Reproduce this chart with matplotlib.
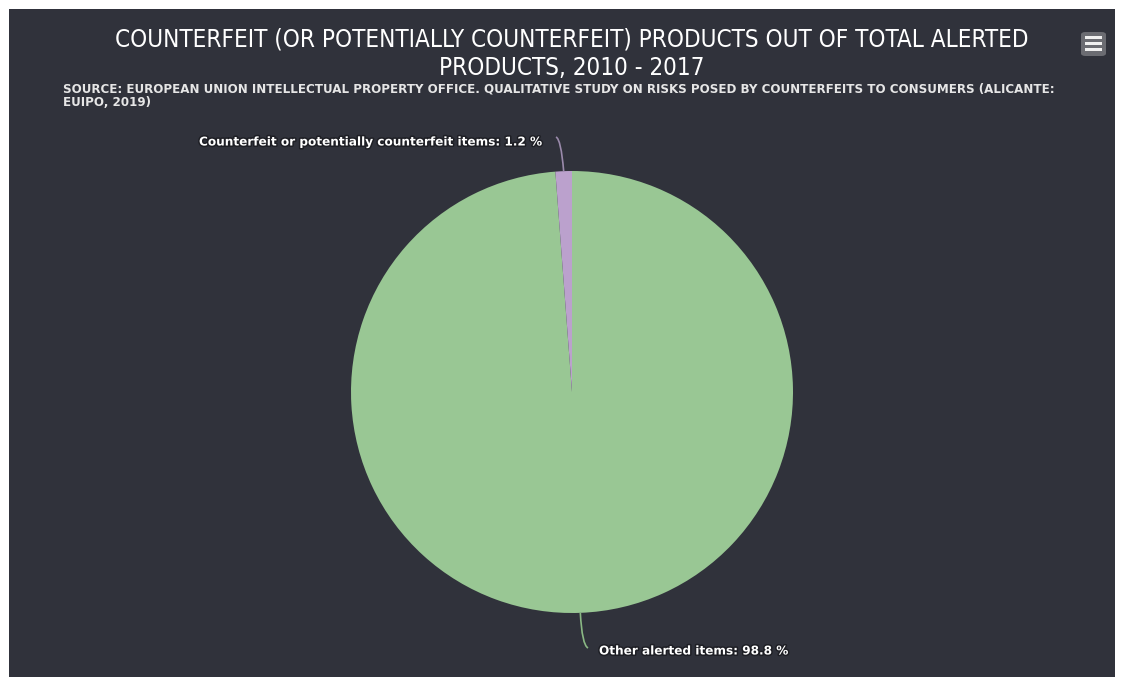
import numpy as np
import matplotlib.pyplot as plt
import matplotlib.patheffects as pe
from matplotlib.patches import Rectangle, FancyBboxPatch
from matplotlib.path import Path
from matplotlib.patches import PathPatch

# data
labels = ['Other alerted items', 'Counterfeit or potentially counterfeit items']
values = [98.8, 1.2]
colors = ['#99c794', '#bba1cd']
line_colors = ['#8ab884', '#9a8aab']

title = 'COUNTERFEIT (OR POTENTIALLY COUNTERFEIT) PRODUCTS OUT OF TOTAL ALERTED\nPRODUCTS, 2010 - 2017'
subtitle = ('SOURCE: EUROPEAN UNION INTELLECTUAL PROPERTY OFFICE. QUALITATIVE STUDY ON RISKS POSED BY '
            'COUNTERFEITS TO CONSUMERS (ALICANTE:\nEUIPO, 2019)')

W, H = 1121, 677
bg = '#30323b'

fig = plt.figure(figsize=(W / 100, H / 100), dpi=100, facecolor='white')

# dark background panel
fig.patches.append(Rectangle((9 / W, 0), (1115 - 9) / W, (H - 9) / H,
                             transform=fig.transFigure, facecolor=bg, edgecolor='none', zorder=-5))

fig.text(572 / W, 1 - 28 / H, title, ha='center', va='top', color='white',
         fontsize=17.4, family='DejaVu Sans', fontstretch='condensed', linespacing=1.2)
fig.text(63 / W, 1 - 83 / H, subtitle, ha='left', va='top', color='#e6e6e6',
         fontsize=8.55, family='DejaVu Sans', fontweight='bold', linespacing=1.0)

# hamburger menu button
fig.patches.append(FancyBboxPatch((1081 / W, 1 - 56 / H), 25 / W, 24 / H,
                                  boxstyle='round,pad=0,rounding_size=0.004',
                                  transform=fig.transFigure, facecolor='#6b6c72',
                                  edgecolor='none', zorder=2))
for yy in [37, 43, 49]:
    fig.patches.append(Rectangle((1085 / W, 1 - (yy + 2) / H), 17 / W, 3 / H,
                                 transform=fig.transFigure, facecolor='#f0f0f0',
                                 edgecolor='none', zorder=3))

# pie axes: center (572, 392) px, radius 221 px
cx, cy, r = 572, 392, 221
ax = fig.add_axes([(cx - r) / W, (H - cy - r) / H, 2 * r / W, 2 * r / H], zorder=5)
ax.set_facecolor('none')
wedges, _ = ax.pie(values, colors=colors, startangle=90, counterclock=False,
                   wedgeprops=dict(linewidth=0))
ax.set_xlim(-1, 1)
ax.set_ylim(-1, 1)
ax.set_axis_off()

stroke = [pe.withStroke(linewidth=2.2, foreground='#1e1f25')]

def px(x, y):
    return ((x - cx) / r, (cy - y) / r)

# connector and label for each slice
layout = {
    0: dict(mid=px(582, 645), end=px(588, 648), text=px(599, 651), ha='left'),
    1: dict(mid=px(561, 139), end=px(556, 137), text=px(543, 142), ha='right'),
}
for i, w in enumerate(wedges):
    ang = np.deg2rad((w.theta1 + w.theta2) / 2)
    start = (np.cos(ang), np.sin(ang))
    L = layout[i]
    path = Path([start, L['mid'], L['end']], [Path.MOVETO, Path.CURVE3, Path.CURVE3])
    ax.add_patch(PathPatch(path, facecolor='none', edgecolor=line_colors[i],
                           linewidth=1.2, clip_on=False))
    ax.text(L['text'][0], L['text'][1], f'{labels[i]}: {values[i]} %', ha=L['ha'],
            va='center', color='white', fontsize=8.7, fontweight='bold',
            family='DejaVu Sans', path_effects=stroke, clip_on=False)

fig.savefig('out.png', dpi=100, facecolor=fig.get_facecolor())
